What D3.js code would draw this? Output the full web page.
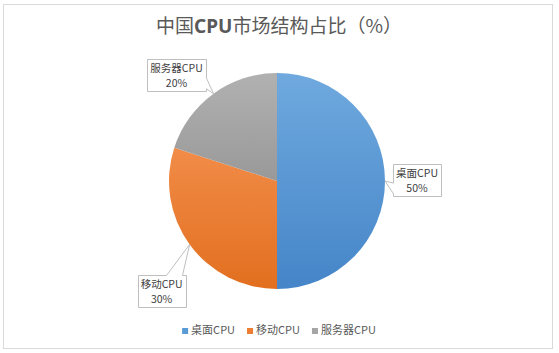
<!DOCTYPE html>
<html>
<head>
<meta charset="utf-8">
<script src="https://cdn.jsdelivr.net/npm/d3@7"></script>
<style>
  html, body { margin: 0; padding: 0; background: #fff; }
  svg { display: block; font-family: "Noto Sans CJK SC", "Noto Sans", sans-serif; }
</style>
</head>
<body>
<div id="chart"></div>
<script>
// data
const categories = ["桌面CPU", "移动CPU", "服务器CPU"];
const shares = [50, 30, 20];
const labelTexts = ["50%", "30%", "20%"];
const colors = ["#5b9bd5", "#ed7d31", "#a5a5a5"];
const colorsLight = ["#6fa9de", "#f18c48", "#b1b1b1"];
const colorsDark = ["#4585c8", "#e26f1f", "#999999"];

const W = 559, H = 353;
const cx = 277, cy = 181, r = 108;

const svg = d3.select("#chart").append("svg")
    .attr("width", W)
    .attr("height", H);

// chart frame
svg.append("rect")
    .attr("x", 3.5).attr("y", 4.5)
    .attr("width", 549).attr("height", 344)
    .attr("fill", "#fff")
    .attr("stroke", "#d9d9d9")
    .attr("stroke-width", 1);

// title
const title = svg.append("text")
    .attr("x", 279)
    .attr("y", 33)
    .attr("text-anchor", "middle")
    .attr("fill", "#595959")
    .attr("font-size", 19);
title.append("tspan").text("中国");
title.append("tspan").attr("font-weight", "bold").attr("font-family", "'Noto Sans', sans-serif").text("CPU");
title.append("tspan").text("市场结构占比（%）");

// gradients, one per slice (Excel style, light at top)
const defs = svg.append("defs");
categories.forEach((c, i) => {
    const g = defs.append("linearGradient")
        .attr("id", "grad" + i)
        .attr("x1", 0).attr("y1", 0)
        .attr("x2", 0).attr("y2", 1);
    g.append("stop").attr("offset", "0%").attr("stop-color", colorsLight[i]);
    g.append("stop").attr("offset", "100%").attr("stop-color", colorsDark[i]);
});

const pie = d3.pie().sort(null).value(d => d);
const arcs = pie(shares);
const arc = d3.arc().innerRadius(0).outerRadius(r);

const gPie = svg.append("g").attr("transform", `translate(${cx},${cy})`);
gPie.selectAll("path")
    .data(arcs)
    .enter()
    .append("path")
    .attr("d", arc)
    .attr("fill", (d, i) => `url(#grad${i})`);

// callout labels
// box offset from the pointer tip (centre of box) - tuned by eye
const boxOffsets = [[32, -1], [-28, 47], [-37, -19]];
const padX = 3;
const lineH = 15;

function calloutPath(x0, y0, x1, y1, tx, ty) {
    const w = x1 - x0, h = y1 - y0;
    const mx = (x0 + x1) / 2, my = (y0 + y1) / 2;
    const dx = (tx - mx) / (w / 2), dy = (ty - my) / (h / 2);
    // wedgeRectCallout style: base on the side facing the tip
    if (Math.abs(dx) >= Math.abs(dy)) {
        const ya = dy > 0 ? y0 + h * 7 / 12 : y0 + h / 12;
        const yb = dy > 0 ? y0 + h * 11 / 12 : y0 + h * 5 / 12;
        if (dx > 0) {
            return `M${x0},${y0}H${x1}V${ya}L${tx},${ty}L${x1},${yb}V${y1}H${x0}Z`;
        }
        return `M${x0},${y0}H${x1}V${y1}H${x0}V${yb}L${tx},${ty}L${x0},${ya}Z`;
    }
    const xa = dx > 0 ? x0 + w * 7 / 12 : x0 + w / 12;
    const xb = dx > 0 ? x0 + w * 11 / 12 : x0 + w * 5 / 12;
    if (dy > 0) {
        return `M${x0},${y0}H${x1}V${y1}H${xb}L${tx},${ty}L${xa},${y1}H${x0}Z`;
    }
    return `M${x0},${y0}H${xa}L${tx},${ty}L${xb},${y0}H${x1}V${y1}H${x0}Z`;
}

const gLabels = svg.append("g");
arcs.forEach((d, i) => {
    const mid = (d.startAngle + d.endAngle) / 2;
    const tx = cx + r * Math.sin(mid);
    const ty = cy - r * Math.cos(mid);
    const bx = tx + boxOffsets[i][0], by = ty + boxOffsets[i][1];

    const g = gLabels.append("g");
    const path = g.append("path")
        .attr("fill", "#fff")
        .attr("stroke", "#bfbfbf")
        .attr("stroke-width", 1);
    const t1 = g.append("text")
        .attr("x", bx).attr("y", by - 3)
        .attr("text-anchor", "middle")
        .attr("fill", "#404040")
        .attr("font-size", 10.5)
        .text(categories[i]);
    g.append("text")
        .attr("x", bx).attr("y", by - 3 + lineH)
        .attr("text-anchor", "middle")
        .attr("fill", "#404040")
        .attr("font-size", 10.5)
        .text(labelTexts[i]);

    const tw = t1.node().getComputedTextLength();
    const x0 = Math.round(bx - tw / 2 - padX) + 0.5, x1 = Math.round(bx + tw / 2 + padX) + 0.5;
    const y0 = Math.round(by - 16) + 0.5, y1 = Math.round(by + 16) + 0.5;
    path.attr("d", calloutPath(x0, y0, x1, y1, tx, ty));
});

// legend
const legend = svg.append("g");
let lx = 0;
categories.forEach((c, i) => {
    const g = legend.append("g");
    g.append("rect")
        .attr("x", 0).attr("y", -6)
        .attr("width", 6).attr("height", 6)
        .attr("fill", colors[i]);
    const t = g.append("text")
        .attr("x", 9).attr("y", 0)
        .attr("fill", "#595959")
        .attr("font-size", 11)
        .text(c);
    const w = 9 + t.node().getComputedTextLength();
    g.attr("transform", `translate(${lx},0)`);
    lx += w + 12;
});
const legendW = lx - 12;
legend.attr("transform", `translate(${279 - legendW / 2},${334})`);
</script>
</body>
</html>
